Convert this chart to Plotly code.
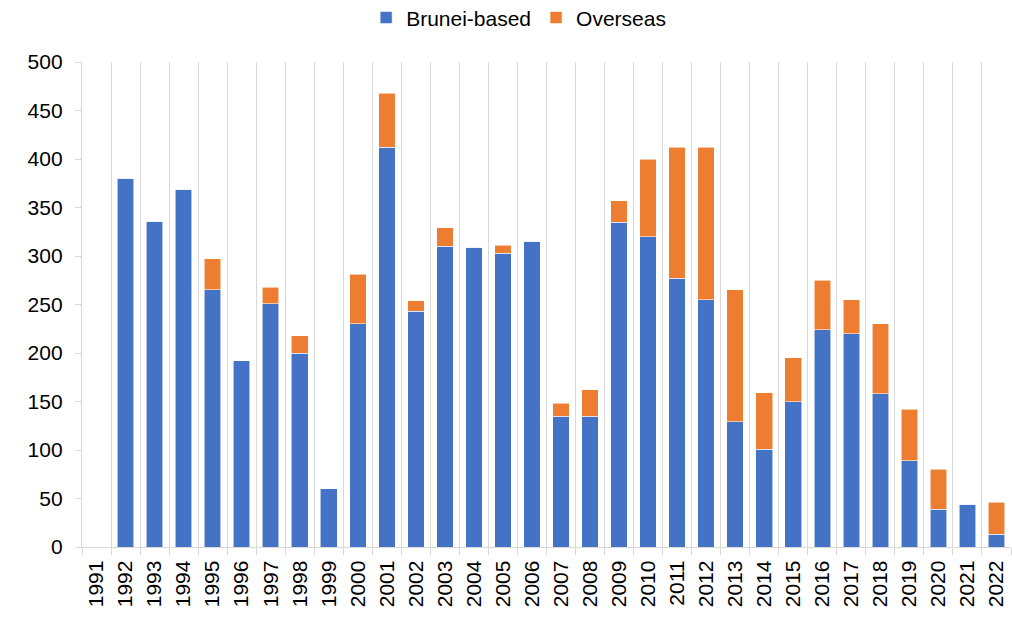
import plotly.graph_objects as go

years = [str(y) for y in range(1991, 2023)]
brunei_based = [0, 380, 336, 369, 265, 192, 251, 200, 60, 230, 412,
                243, 310, 309, 303, 315, 135, 135, 335, 320, 277,
                255, 129, 101, 150, 224, 220, 158, 89, 39, 44, 13]
overseas = [0, 0, 0, 0, 32, 0, 17, 18, 0, 51, 56,
            11, 19, 0, 8, 0, 13, 27, 22, 80, 135,
            157, 136, 58, 45, 51, 35, 72, 53, 41, 0, 33]
y_ticks = [0, 50, 100, 150, 200, 250, 300, 350, 400, 450, 500]

BLUE = "#4472C4"
ORANGE = "#ED7D31"
FONT = "Liberation Sans, Arial, sans-serif"
FS = 21

fig = go.Figure()
fig.add_trace(go.Bar(x=years, y=brunei_based, name="Brunei-based",
                     marker=dict(color=BLUE, line=dict(color="rgba(255,255,255,0.7)", width=0.8))))
fig.add_trace(go.Bar(x=years, y=overseas, name="Overseas",
                     marker=dict(color=ORANGE, line=dict(color="rgba(255,255,255,0.7)", width=0.8))))

fig.update_layout(
    barmode="stack",
    bargap=0.43,
    width=1012, height=639,
    margin=dict(l=82, r=1, t=62, b=92, autoexpand=False),
    paper_bgcolor="white", plot_bgcolor="white",
    font=dict(family=FONT, size=FS, color="#000000"),
    legend=dict(orientation="h", x=0.47, xanchor="center",
                yref="container", y=0.972, yanchor="middle",
                font=dict(family=FONT, size=FS), traceorder="normal", itemwidth=30),
    showlegend=True,
)
fig.update_xaxes(
    type="category", tickson="boundaries", automargin=False,
    showgrid=True, gridcolor="#D9D9D9", gridwidth=1.3,
    showline=True, linecolor="#D9D9D9", linewidth=1.3,
    ticks="outside", ticklen=7, tickcolor="#D9D9D9",
    tickangle=-90, tickfont=dict(family=FONT, size=FS),
    ticklabelstandoff=4,
)
fig.update_yaxes(
    range=[0, 500], tickvals=y_ticks, automargin=False,
    showgrid=False, zeroline=False,
    showline=True, linecolor="#D9D9D9", linewidth=1.3,
    ticks="outside", ticklen=6, tickcolor="#D9D9D9",
    tickfont=dict(family=FONT, size=FS),
    ticklabelstandoff=8,
)

fig.write_html("out.html",
               config={"displayModeBar": False},
               post_script="document.body.style.margin='0';document.body.style.padding='0';")
